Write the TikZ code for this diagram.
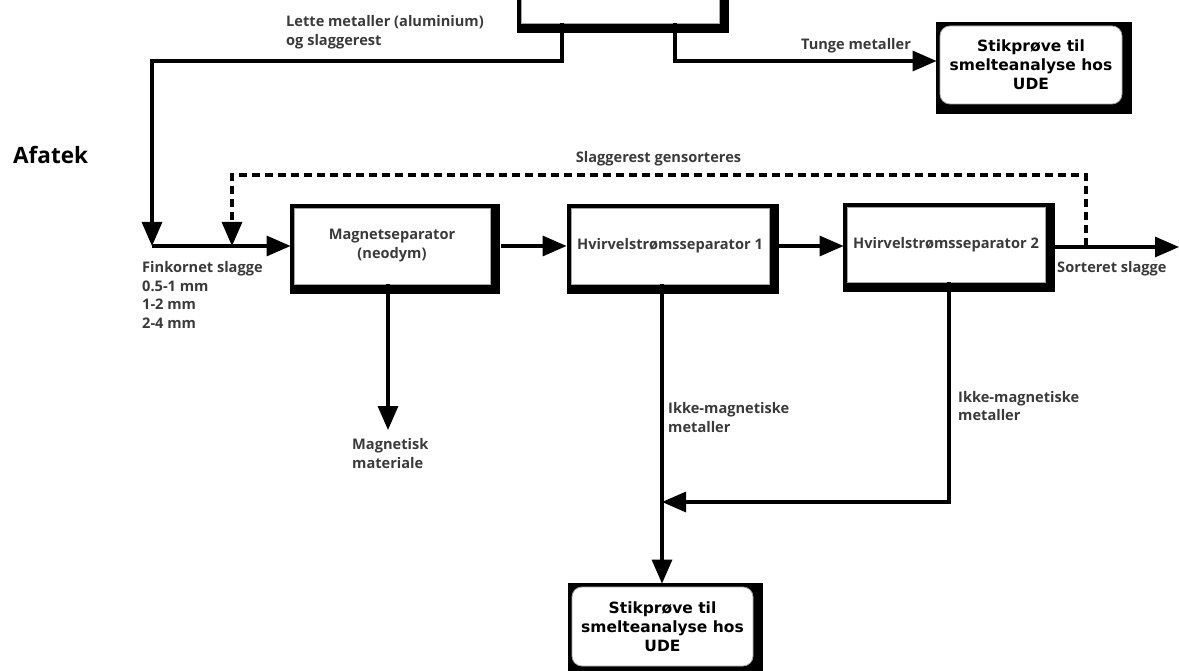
\documentclass[tikz,border=0pt]{standalone}
\usepackage{fontspec}
\setmainfont{Open Sans}
\newfontfamily\vfont{DejaVu Sans}
\usetikzlibrary{arrows.meta,backgrounds}
\definecolor{lblgray}{RGB}{58,58,58}
\tikzset{
  flow/.style={line width=3.2pt, -{Triangle[length=24pt,width=20pt]}},
  dashflow/.style={flow, dash pattern=on 8pt off 5pt},
  lbl/.style={font=\fontsize{14.6}{18.6}\selectfont\bfseries, text=lblgray, align=left, inner sep=0pt},
  pbox/.style={fill=white, draw=black!35, line width=0.8pt, inner sep=0pt,
    font=\fontsize{14.6}{19}\selectfont\bfseries, text=lblgray, align=center},
  stikbox/.style={pbox, rounded corners=10pt, text=black,
    font=\vfont\fontsize{15.5}{19}\selectfont\bfseries},
}
\begin{document}
\begin{tikzpicture}[x=1pt,y=-1pt]
\path[use as bounding box] (0,0) rectangle (1179,671);

% boxes
\node[pbox, minimum width=198pt, minimum height=86pt] (top) at (620,-20) {};
\node[pbox, minimum width=196pt, minimum height=76pt] (mag) at (392,246) {Magnetseparator\\(neodym)};
\node[pbox, minimum width=198pt, minimum height=76pt] (h1) at (670,246) {Hvirvelstrømsseparator 1};
\node[pbox, minimum width=198pt, minimum height=75pt] (h2) at (946,244.5) {Hvirvelstrømsseparator 2};
\node[stikbox, minimum width=182pt, minimum height=78pt] (s1) at (1031,65) {Stikprøve til\\smelteanalyse hos\\UDE};
\node[stikbox, minimum width=181pt, minimum height=79pt] (s2) at (662.5,626.5) {Stikprøve til\\smelteanalyse hos\\UDE};

\begin{scope}[on background layer]
  \foreach \n in {top,mag,h1,h2,s1,s2}
    \fill ([shift={(-3.5,-3.5)}]\n.north west) rectangle ([shift={(10,10)}]\n.south east);
\end{scope}

% coordinates
\coordinate (lbend) at (152,61);
\coordinate (j1) at (152,246);
\coordinate (j2) at (232,246);
\coordinate (d1) at (1086,246);
\coordinate (out) at (1179,247);
\coordinate (mm) at (388,430);
\coordinate (j3) at (662,502);

% connectors
\draw[flow] ([xshift=-58pt]top.south) |- (lbend) -- (j1);
\draw[flow] ([xshift=55pt]top.south) |- ([xshift=-3pt,yshift=4pt]s1.west);
\draw[flow] (j1) -- ([xshift=-3pt]mag.west);
\draw[dashflow] (d1) -- ++(0,-71) -| (j2);
\draw[flow] ([xshift=11pt]mag.east) -- ([xshift=-4pt]h1.west);
\draw[flow] ([xshift=10pt]h1.east) -- ([xshift=-3pt]h2.west |- h1.east);
\draw[flow] ([xshift=9pt]h2.east |- out) -- (out);
\draw[flow] (mm |- mag.south) -- (mm);
\draw[flow] (j3 |- h1.south) -- ([yshift=3pt]s2.north -| j3);
\draw[flow] ([xshift=3pt]h2.south) |- (j3);

% labels
\node[lbl, anchor=west] (llette) at (286,32.5) {Lette metaller (aluminium)\\og slaggerest};
\node[lbl] (ltunge) at (856,46) {Tunge metaller};
\node[anchor=west, inner sep=0pt, font=\fontsize{22.5}{26}\selectfont\bfseries] (lafatek) at (13,155) {Afatek};
\node[lbl] (lslag) at (658.5,159) {Slaggerest gensorteres};
\node[lbl, anchor=west] (lfin) at (142,295) {Finkornet slagge\\0.5-1 mm\\1-2 mm\\2-4 mm};
\node[lbl, anchor=west] (lsort) at (1057,269) {Sorteret slagge};
\node[lbl, anchor=west] (lmag) at (352,453.5) {Magnetisk\\materiale};
\node[lbl, anchor=west] (likke1) at (668,417.5) {Ikke-magnetiske\\metaller};
\node[lbl, anchor=west] (likke2) at (958,406) {Ikke-magnetiske\\metaller};
\end{tikzpicture}
\end{document}
